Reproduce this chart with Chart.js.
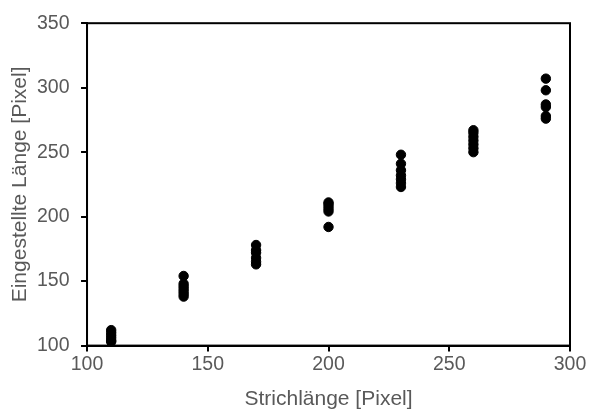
<!DOCTYPE html>
<html>
<head>
<meta charset="utf-8">
<script src="https://cdn.jsdelivr.net/npm/chart.js@4"></script>
<style>
  html, body { margin: 0; padding: 0; background: #fff; }
  #wrap { width: 590px; height: 412px; }
</style>
</head>
<body>
<div id="wrap"><canvas id="c"></canvas></div>
<script>
// stroke lengths shown (x) and the lengths set by participants (y)
const strokeLengths = [110, 140, 170, 200, 230, 260, 290];
const setLengths = [
  [112, 110, 108, 106, 104, 103],
  [154, 148, 146, 144, 142, 140, 138],
  [178, 174, 172, 168, 165, 163],
  [192, 204, 206, 208, 210, 211],
  [248, 241, 236, 232, 229, 226, 223],
  [267, 265, 262, 259, 256, 253, 250],
  [307, 298, 287, 285, 278, 276]
];
const xTicks = [100, 150, 200, 250, 300];
const yTicks = [100, 150, 200, 250, 300, 350];

const points = [];
strokeLengths.forEach((x, i) => {
  setLengths[i].forEach((y) => points.push({ x: x, y: y }));
});

// draws the full box around the plot area
const frame = {
  id: "frame",
  afterDraw(chart) {
    const a = chart.chartArea;
    const ctx = chart.ctx;
    ctx.save();
    ctx.strokeStyle = "#000";
    ctx.lineWidth = 2;
    ctx.strokeRect(a.left, a.top, a.right - a.left, a.bottom - a.top);
    ctx.restore();
  }
};

const family = "'Liberation Sans', Arial, sans-serif";
const tickFont = { family: family, size: 19.5 };
const titleFont = { family: family, size: 21, lineHeight: 1 };

new Chart(document.getElementById("c"), {
  type: "scatter",
  data: {
    datasets: [{
      data: points,
      backgroundColor: "#000",
      borderColor: "#000",
      pointRadius: 4.7,
      pointHoverRadius: 4.7
    }]
  },
  options: {
    responsive: true,
    maintainAspectRatio: false,
    animation: false,
    layout: { padding: { top: 10, right: 20, left: 9.5, bottom: 0 } },
    plugins: { legend: { display: false }, tooltip: { enabled: false } },
    scales: {
      x: {
        type: "linear",
        min: 100,
        max: 300,
        afterBuildTicks: (s) => { s.ticks = xTicks.map((v) => ({ value: v })); },
        grid: { drawOnChartArea: false, color: "#000", lineWidth: 2, tickLength: 6 },
        border: { color: "#000", width: 2 },
        ticks: { color: "#595959", font: tickFont, padding: 1 },
        title: { display: true, text: "Strichlänge [Pixel]", color: "#595959", font: titleFont, padding: { top: 12, bottom: 2 } }
      },
      y: {
        min: 100,
        max: 350,
        afterBuildTicks: (s) => { s.ticks = yTicks.map((v) => ({ value: v })); },
        grid: { drawOnChartArea: false, color: "#000", lineWidth: 2, tickLength: 6 },
        border: { color: "#000", width: 2 },
        ticks: { color: "#595959", font: tickFont, padding: 11.5 },
        title: { display: true, text: "Eingestellte Länge [Pixel]", color: "#595959", font: titleFont, padding: { top: 0, bottom: -5 } }
      }
    }
  },
  plugins: [frame]
});
</script>
</body>
</html>
